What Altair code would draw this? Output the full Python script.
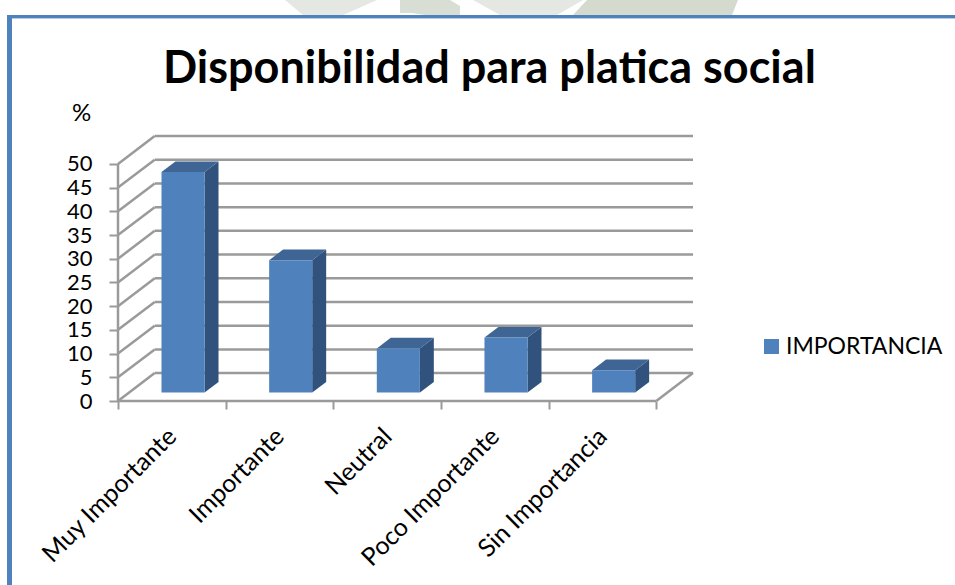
import altair as alt
import pandas as pd

# Survey answers (percent of 43 respondents)
categories = ["Muy Importante", "Importante", "Neutral", "Poco Importante", "Sin Importancia"]
values = [46.5, 27.9, 9.3, 11.6, 4.7]
series_name = "IMPORTANCIA"
chart_title = "Disponibilidad para platica social"
y_ticks = [0, 5, 10, 15, 20, 25, 30, 35, 40, 45, 50]
x_ticks = [0, 1, 2, 3, 4, 5]

FONT = "Lato"
FACE, TOP, SIDE = "#4F81BD", "#3E6594", "#31527C"
LINE = "#9A9A9A"

# Plot-area placement on the 955x585 canvas
OX, OY, W, H = 118, 136, 575, 265

# Oblique projection: one unit of depth shifts by (DX categories, DY percent)
DX, DY = 0.341, 5.88
NEAR, FAR = 0.305, 0.685
HALF = 0.2
XMAX, YMAX = 5 + DX, 50 + DY


def px(i, d=0.0):
    return i + d * DX


def py(v, d=0.0):
    return v + d * DY


x_scale = alt.Scale(domain=[0, XMAX], nice=False, zero=False)
y_scale = alt.Scale(domain=[0, YMAX], nice=False, zero=False)
X = lambda name="x", **kw: alt.X(f"{name}:Q", scale=x_scale, **kw)
Y = lambda name="y", **kw: alt.Y(f"{name}:Q", scale=y_scale, **kw)

# Wall and floor lines
lines = []
for t in y_ticks:
    lines.append(dict(x=px(0, 1), x2=px(5, 1), y=py(t, 1), y2=py(t, 1)))  # back wall
    lines.append(dict(x=px(0), x2=px(0, 1), y=py(t), y2=py(t, 1)))        # side wall
lines.append(dict(x=px(0), x2=px(0), y=0, y2=50))                         # front vertical
lines.append(dict(x=px(0), x2=px(5), y=0, y2=0))                          # front floor edge
lines.append(dict(x=px(5), x2=px(5, 1), y=0, y2=py(0, 1)))                # right floor edge
lines_df = pd.DataFrame(lines)

tick_axis = alt.Axis(
    values=x_ticks, labels=False, title=None, grid=False, domain=False,
    ticks=True, tickColor=LINE, tickWidth=2, tickSize=8, orient="bottom",
)
y_axis = alt.Axis(
    values=y_ticks, title="%", titleAngle=0, titleX=-37, titleY=-11, titleFont=FONT,
    titleFontSize=24, titleFontWeight="normal", titleColor="#000000", titleAlign="center",
    grid=False, domain=False, tickColor=LINE, tickWidth=2, tickSize=9,
    labelFont=FONT, labelFontSize=22, labelColor="#000000", labelPadding=17,
    labelFlush=False, labelOverlap=False,
)
walls = alt.Chart(lines_df).mark_rule(color=LINE, strokeWidth=2.5).encode(
    x=X(axis=tick_axis), x2="x2:Q", y=Y(axis=y_axis), y2="y2:Q"
)

# Bar faces
front_rows = []
face_layers = []
for i, (c, v) in enumerate(zip(categories, values)):
    a, b = i + 0.5 - HALF, i + 0.5 + HALF
    front_rows.append(dict(x=px(a, NEAR), x2=px(b, NEAR), y=py(0, NEAR), y2=py(v, NEAR), s=series_name))
    lo, hi = py(v, NEAR), py(v, FAR)
    top_df = pd.DataFrame({
        "x": [px(a, NEAR), px(a, FAR), px(b, NEAR), px(b, FAR)],
        "y": [lo, lo, lo, hi],
        "y2": [lo, hi, hi, hi],
    })
    side_df = pd.DataFrame({
        "x": [px(b, NEAR), px(b, FAR)],
        "y": [py(0, NEAR), py(0, FAR)],
        "y2": [lo, hi],
    })
    for df, fill in ((side_df, SIDE), (top_df, TOP)):
        face_layers.append(
            alt.Chart(df).mark_area(color=fill, opacity=1, orient="vertical").encode(
                x=X(axis=None), y=Y(axis=None), y2="y2:Q"
            )
        )

front = alt.Chart(pd.DataFrame(front_rows)).mark_rect().encode(
    x=X(axis=None), x2="x2:Q", y=Y(axis=None), y2="y2:Q",
    color=alt.Color(
        "s:N",
        scale=alt.Scale(domain=[series_name], range=[FACE]),
        legend=alt.Legend(
            title=None, orient="none", legendX=642, legendY=199, symbolType="square",
            symbolSize=225, symbolStrokeWidth=0, symbolOpacity=1, labelFont=FONT,
            labelFontSize=23, labelColor="#000000", labelOffset=3, labelLimit=300,
        ),
    ),
)

# Category names centred on their bands
label_df = pd.DataFrame({"x": [i + 0.5 for i in range(5)], "y": [0] * 5})
label_expr = "[" + ",".join(f"'{c}'" for c in categories) + "][floor(datum.value)]"
label_axis = alt.Axis(
    values=[i + 0.5 for i in range(5)], labelExpr=label_expr, title=None, grid=False,
    domain=False, ticks=False, labelAngle=-45, labelAlign="right", labelBaseline="middle",
    labelFont=FONT, labelFontSize=25, labelColor="#000000", labelPadding=31, labelOverlap=False,
    labelLimit=400, orient="bottom",
)
labels = alt.Chart(label_df).mark_point(opacity=0).encode(
    x=X(axis=label_axis), y=Y(axis=None)
)


def band(x0, x1, y0, y1, color):
    """Flat strip placed in canvas pixels."""
    return alt.Chart(pd.DataFrame({"a": [0]})).mark_rect(color=color, clip=False).encode(
        x=alt.value(x0 - OX), x2=alt.value(x1 - OX), y=alt.value(y0 - OY), y2=alt.value(y1 - OY)
    )


def backdrop(rows, color):
    """Pale slanted shape above the frame; rows are canvas (x, upper y, lower y)."""
    df = pd.DataFrame({
        "x": [(r[0] - OX) / W * XMAX for r in rows],
        "y": [(OY + H - r[1]) / H * YMAX for r in rows],
        "y2": [(OY + H - r[2]) / H * YMAX for r in rows],
    })
    return alt.Chart(df).mark_area(color=color, opacity=1, clip=False, orient="vertical").encode(
        x=X(axis=None), y=Y(axis=None), y2="y2:Q"
    )


decor = [
    backdrop([(285, 0, 0), (303, 0, 15), (343, 0, 15), (377, 0, 0)], "#E4E7E2"),
    backdrop([(400, 0, 13), (412, 0, 13), (425, 0, 15), (450, 0, 15), (460, 6, 15)], "#D9DED4"),
    backdrop([(473, 0, 0), (500, 0, 15), (557, 0, 15), (583, 0, 0)], "#E4E7E2"),
    backdrop([(573, 15, 15), (587, 0, 15), (732, 0, 15), (738, 0, 0)], "#D5DACF"),
    band(7, 955, 15, 18, "#4F81BD"),
    band(7, 955, 18, 19, "#B9CDE5"),
    band(7, 12, 15, 585, "#4F81BD"),
]

title_mark = alt.Chart(pd.DataFrame({"t": [chart_title]})).mark_text(
    font=FONT, fontSize=45, fontWeight="bold", color="#000000",
    align="left", baseline="alphabetic", clip=False,
).encode(text="t:N", x=alt.value(163 - OX), y=alt.value(83 - OY))

chart = (
    alt.layer(*decor, walls, *face_layers, front, labels, title_mark)
    .resolve_axis(x="independent", y="independent")
    .properties(
        width=W,
        height=H,
        padding={"left": OX, "top": OY, "right": 955 - OX - W, "bottom": 585 - OY - H},
        autosize=alt.AutoSizeParams(type="none", contains="content"),
        background="white",
    )
    .configure_view(stroke=None)
)

chart.save("out.html", embed_options={"renderer": "svg", "actions": False})
